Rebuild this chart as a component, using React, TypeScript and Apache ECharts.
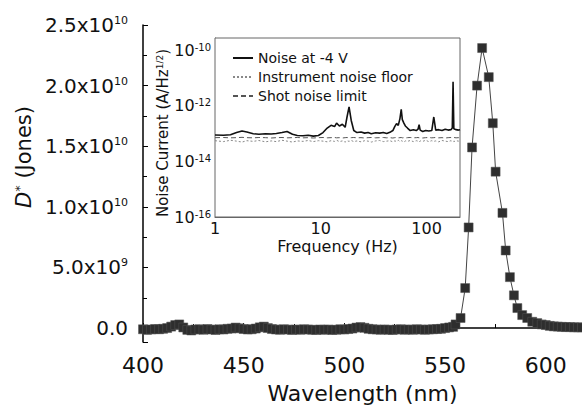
import React, { useEffect, useRef } from "react";
import * as echarts from "echarts";

// ---------- Main panel: detectivity spectrum ----------
const wavelengthNm = [
  400, 402, 404, 406, 408, 410, 412, 414, 416, 418,
  420, 422, 424, 426, 428, 430, 432, 434, 436, 438,
  440, 442, 444, 446, 448, 450, 452, 454, 456, 458,
  460, 462, 464, 466, 468, 470, 472, 474, 476, 478,
  480, 482, 484, 486, 488, 490, 492, 494, 496, 498,
  500, 502, 504, 506, 508, 510, 512, 514, 516, 518,
  520, 522, 524, 526, 528, 530, 532, 534, 536, 538,
  540, 542, 544, 546, 548, 550, 552, 554,
  555.2, 557.7, 560, 561.7, 563.4, 565.9, 568.4, 571.7, 573.7, 575.1,
  578.5, 580.1, 582.2, 584.2, 585.9, 588.3, 590.8, 593.3, 595.8, 598,
  600, 602, 604, 606, 608, 610, 612, 614, 616, 618,
];

// D* in units of 1e10 Jones
const detectivityE10 = [
  -0.01, -0.015, -0.012, -0.008, -0.01, -0.006, 0.0, 0.012, 0.025, 0.03,
  0.005, -0.015, -0.02, -0.012, -0.01, -0.014, -0.008, -0.012, -0.016, -0.01,
  -0.012, -0.006, -0.004, 0.004, -0.002, -0.008, -0.012, -0.01, -0.004, 0.006,
  0.012, 0.0, -0.008, -0.012, -0.014, -0.01, -0.012, -0.016, -0.012, -0.014,
  -0.01, -0.012, -0.014, -0.016, -0.012, -0.014, -0.012, -0.016, -0.014, -0.01,
  -0.012, -0.008, -0.004, 0.004, 0.008, 0.002, -0.006, -0.01, -0.012, -0.014,
  -0.012, -0.014, -0.016, -0.012, -0.01, -0.014, -0.012, -0.014, -0.01, -0.012,
  -0.014, -0.012, -0.01, -0.008, -0.006, 0.0, 0.005, 0.01,
  0.03, 0.083, 0.33, 0.83, 1.49, 2.0, 2.31, 2.07, 1.69, 1.29,
  0.95, 0.64, 0.42, 0.27, 0.165, 0.107, 0.083, 0.052, 0.041, 0.03,
  0.025, 0.018, 0.014, 0.012, 0.01, 0.008, 0.008, 0.006, 0.006, 0.005,
];

// ---------- Inset: noise current spectra ----------
const frequencyHz = [
  1, 1.2, 1.4, 1.6, 1.8, 2, 2.3, 2.6, 3, 3.4,
  3.8, 4.3, 4.8, 5.4, 6, 6.8, 7.6, 8.5, 9.5, 10.5,
  11.5, 12.5, 13.5, 14.1, 15, 16, 17, 17.7, 18.5, 19.4,
  20.5, 22, 24, 26, 28, 30, 33, 36, 39, 42,
  45, 48, 50, 52, 54, 56, 57.6, 59, 61, 63,
  66, 70, 75, 80, 83, 85, 87, 92, 98, 105,
  112, 117, 122, 130, 140, 150, 160, 170, 175, 178,
  181, 190, 200, 207,
];

const noiseAtMinus4V = [
  9.0e-14, 8.8e-14, 9.2e-14, 1.1e-13, 1.25e-13, 1.15e-13, 1.0e-13, 9.6e-14, 1.0e-13, 9.8e-14,
  1.02e-13, 1.1e-13, 1.2e-13, 9.5e-14, 8.6e-14, 8.4e-14, 8.8e-14, 8.2e-14, 8.6e-14, 1.1e-13,
  1.6e-13, 2.0e-13, 1.8e-13, 2.4e-13, 1.9e-13, 2.2e-13, 1.7e-13, 4.0e-13, 9.3e-13, 3.0e-13,
  1.3e-13, 1.1e-13, 1.15e-13, 1.05e-13, 1.1e-13, 1.0e-13, 1.08e-13, 1.05e-13, 1.1e-13, 1.02e-13,
  1.12e-13, 1.3e-13, 1.8e-13, 2.3e-13, 2.0e-13, 3.5e-13, 7.6e-13, 3.2e-13, 2.4e-13, 1.9e-13,
  1.6e-13, 1.3e-13, 1.4e-13, 1.3e-13, 1.45e-13, 2.1e-13, 1.35e-13, 1.2e-13, 1.3e-13, 1.25e-13,
  1.3e-13, 4.0e-13, 1.35e-13, 1.4e-13, 1.3e-13, 1.45e-13, 1.35e-13, 1.4e-13, 1.6e-13, 7.4e-12,
  1.5e-13, 1.4e-13, 1.35e-13, 1.4e-13,
];

const instrumentFloor = [
  5.6e-14, 5.2e-14, 5.8e-14, 5.4e-14, 5.0e-14, 5.6e-14, 5.3e-14, 5.7e-14, 5.1e-14, 5.5e-14,
  5.2e-14, 5.8e-14, 5.4e-14, 5.0e-14, 5.5e-14, 5.3e-14, 5.7e-14, 5.2e-14, 5.6e-14, 5.4e-14,
  5.1e-14, 5.6e-14, 5.3e-14, 5.8e-14, 5.2e-14, 5.5e-14, 5.0e-14, 5.6e-14, 5.3e-14, 5.7e-14,
  5.2e-14, 5.5e-14, 5.1e-14, 5.6e-14, 5.4e-14, 5.0e-14, 5.5e-14, 5.7e-14, 5.2e-14, 5.4e-14,
  5.6e-14, 5.1e-14, 5.5e-14, 5.3e-14, 5.8e-14, 5.2e-14, 5.6e-14, 5.4e-14, 5.0e-14, 5.5e-14,
  5.3e-14, 5.7e-14, 5.2e-14, 5.6e-14, 5.4e-14, 5.1e-14, 5.5e-14, 5.3e-14, 5.8e-14, 5.2e-14,
  5.6e-14, 5.3e-14, 5.5e-14, 5.1e-14, 5.7e-14, 5.4e-14, 5.2e-14, 5.6e-14, 5.3e-14, 5.5e-14,
  5.2e-14, 5.6e-14, 5.4e-14, 5.5e-14,
];

const shotNoiseLimit = [
  7.2e-14, 7.3e-14, 7.1e-14, 7.2e-14, 7.4e-14, 7.2e-14, 7.1e-14, 7.3e-14, 7.2e-14, 7.0e-14,
  7.2e-14, 7.3e-14, 7.1e-14, 7.2e-14, 7.3e-14, 7.1e-14, 7.2e-14, 7.0e-14, 7.2e-14, 7.3e-14,
  7.1e-14, 7.2e-14, 7.3e-14, 7.1e-14, 7.2e-14, 7.0e-14, 7.2e-14, 7.3e-14, 7.1e-14, 7.2e-14,
  7.3e-14, 7.1e-14, 7.2e-14, 7.0e-14, 7.2e-14, 7.3e-14, 7.1e-14, 7.2e-14, 7.3e-14, 7.1e-14,
  7.2e-14, 7.0e-14, 7.2e-14, 7.3e-14, 7.1e-14, 7.2e-14, 7.3e-14, 7.1e-14, 7.2e-14, 7.0e-14,
  7.2e-14, 7.3e-14, 7.1e-14, 7.2e-14, 7.3e-14, 7.1e-14, 7.2e-14, 7.0e-14, 7.2e-14, 7.3e-14,
  7.1e-14, 7.2e-14, 7.3e-14, 7.1e-14, 7.2e-14, 7.0e-14, 7.2e-14, 7.3e-14, 7.1e-14, 7.2e-14,
  7.3e-14, 7.1e-14, 7.2e-14, 7.2e-14,
];

const seriesNames = ["Noise at -4 V", "Instrument noise floor", "Shot noise limit"];

const FONT = "DejaVu Sans";
const INK = "#111";

function mainYLabel(v: number): string {
  if (Math.abs(v) < 1) return "0.0";
  const e = Math.floor(Math.log10(Math.abs(v)) + 1e-9);
  const m = v / Math.pow(10, e);
  return `${m.toFixed(1)}x10{sup|${e}}`;
}

function decadeLabel(v: number, step: number): string {
  const l = Math.log10(v);
  const e = Math.round(l);
  if (Math.abs(l - e) > 0.01) return "";
  if (e % step !== 0) return "";
  return `10{sup|${e}}`;
}

export default function App() {
  const ref = useRef<HTMLDivElement>(null);

  useEffect(() => {
    if (!ref.current) return;
    const chart = echarts.init(ref.current, undefined, { renderer: "svg" });

    const mainData = wavelengthNm.map((w, i) => [w, detectivityE10[i] * 1e10]);
    const toPairs = (arr: number[]) => frequencyHz.map((f, i) => [f, arr[i]]);

    chart.setOption({
      animation: false,
      backgroundColor: "#fff",
      textStyle: { fontFamily: FONT, color: INK },
      grid: [
        { left: 143, top: 25, width: 439, height: 317, containLabel: false },
        {
          left: 215, top: 38, width: 245, height: 179, show: true,
          backgroundColor: "#fff", borderColor: "#666", borderWidth: 1, z: 5,
        },
      ],
      legend: {
        data: seriesNames,
        left: 227,
        top: 46,
        orient: "vertical",
        itemWidth: 20,
        itemHeight: 10,
        itemGap: 5,
        itemStyle: { opacity: 0 },
        textStyle: { fontFamily: FONT, fontSize: 14, color: INK },
        z: 10,
      },
      xAxis: [
        {
          type: "value", gridIndex: 0, min: 400, max: 618, interval: 50,
          axisLine: { show: true, lineStyle: { color: "#000", width: 1.5 } },
          axisTick: { show: true, inside: true, length: 5, lineStyle: { color: "#000" } },
          minorTick: { show: true, splitNumber: 2, length: 4, lineStyle: { color: "#000" } },
          splitLine: { show: false },
          axisLabel: {
            fontFamily: FONT, fontSize: 22, color: INK, margin: 12,
            showMaxLabel: false,
            formatter: (v: number) => (v % 50 === 0 ? String(v) : ""),
          },
          name: "Wavelength (nm)", nameLocation: "middle", nameGap: 40,
          nameTextStyle: { fontFamily: FONT, fontSize: 22, color: INK },
        },
        {
          type: "log", gridIndex: 1, logBase: 10, min: 1, max: 207,
          axisLine: { show: true, lineStyle: { color: "#666", width: 1 } },
          axisTick: { show: true, inside: true, length: 3, lineStyle: { color: "#666" } },
          splitLine: { show: false },
          axisLabel: {
            fontFamily: FONT, fontSize: 16, color: INK, margin: 3, showMaxLabel: false,
            formatter: (v: number) => {
              const l = Math.log10(v);
              return Math.abs(l - Math.round(l)) < 0.01 ? String(Math.round(v)) : "";
            },
          },
          name: "Frequency (Hz)", nameLocation: "middle", nameGap: 21,
          nameTextStyle: { fontFamily: FONT, fontSize: 16, color: INK },
        },
      ],
      yAxis: [
        {
          type: "value", gridIndex: 0, min: -1.15e9, max: 2.5e10, splitNumber: 5,
          axisLine: { show: true, lineStyle: { color: "#000", width: 1.5 } },
          axisTick: { show: true, inside: true, length: 5, lineStyle: { color: "#000" } },
          minorTick: { show: true, splitNumber: 2, length: 4, lineStyle: { color: "#000" } },
          splitLine: { show: false },
          axisLabel: {
            fontFamily: FONT, fontSize: 20, color: INK, margin: 15,
            showMinLabel: false,
            formatter: mainYLabel,
            rich: {
              sup: { fontFamily: FONT, fontSize: 11, color: INK, verticalAlign: "top", lineHeight: 12 },
            },
          },
          name: "{i|D}{s|*} (Jones)",
          nameLocation: "middle",
          nameGap: 91,
          nameTextStyle: {
            fontFamily: FONT, fontSize: 21, color: INK,
            padding: [0, 0, 0, 53],
            rich: {
              i: { fontFamily: FONT, fontSize: 21, fontStyle: "italic", color: INK },
              s: { fontFamily: FONT, fontSize: 13, color: INK, verticalAlign: "top", lineHeight: 13 },
            },
          },
        },
        {
          type: "log", gridIndex: 1, logBase: 10, min: 1e-16, max: 2.8e-10,
          axisLine: { show: true, lineStyle: { color: "#666", width: 1 } },
          axisTick: { show: true, inside: true, length: 3, lineStyle: { color: "#666" } },
          splitLine: { show: false },
          axisLabel: {
            fontFamily: FONT, fontSize: 16, color: INK, margin: 4, showMaxLabel: false,
            formatter: (v: number) => decadeLabel(v, 2),
            rich: {
              sup: { fontFamily: FONT, fontSize: 10, color: INK, verticalAlign: "top", lineHeight: 10 },
            },
          },
          name: "{b|Noise Current (A/Hz}{s|1/2}{b|)}",
          nameLocation: "middle",
          nameGap: 45,
          nameTextStyle: {
            fontFamily: FONT, fontSize: 15, color: INK,
            padding: [0, 11, 0, 0],
            rich: {
              b: { fontFamily: FONT, fontSize: 15, color: INK },
              s: { fontFamily: FONT, fontSize: 9, color: INK, verticalAlign: "top", lineHeight: 9 },
            },
          },
        },
      ],
      series: [
        {
          type: "line", name: "D*", xAxisIndex: 0, yAxisIndex: 0,
          data: mainData,
          symbol: "rect", symbolSize: 9, showAllSymbol: true,
          itemStyle: { color: "#2e2e2e", borderColor: "#555", borderWidth: 0.5 },
          lineStyle: { color: "#444", width: 1 },
          z: 3,
        },
        {
          type: "line", name: seriesNames[0], xAxisIndex: 1, yAxisIndex: 1,
          data: toPairs(noiseAtMinus4V), symbol: "none",
          lineStyle: { color: "#111", width: 1.6 },
          itemStyle: { color: "#111" },
          z: 8,
        },
        {
          type: "line", name: seriesNames[1], xAxisIndex: 1, yAxisIndex: 1,
          data: toPairs(instrumentFloor), symbol: "none",
          lineStyle: { color: "#888", width: 1, type: [2, 2] },
          itemStyle: { color: "#888" },
          z: 7,
        },
        {
          type: "line", name: seriesNames[2], xAxisIndex: 1, yAxisIndex: 1,
          data: toPairs(shotNoiseLimit), symbol: "none",
          lineStyle: { color: "#555", width: 1, type: [5, 3] },
          itemStyle: { color: "#555" },
          z: 7,
        },
      ],
    });

    return () => chart.dispose();
  }, []);

  return (
    <div
      ref={ref}
      style={{ position: "absolute", left: 0, top: 0, width: 582, height: 409 }}
    />
  );
}
